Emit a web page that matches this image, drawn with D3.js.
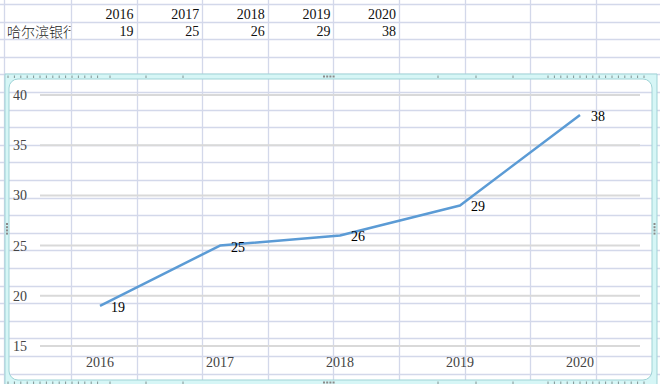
<!DOCTYPE html>
<html>
<head>
<meta charset="utf-8">
<script src="https://cdn.jsdelivr.net/npm/d3@7"></script>
<style>
  html, body { margin: 0; padding: 0; background: #fff; }
  svg { display: block; }
  .serif { font-family: "Liberation Serif", "DejaVu Serif", serif; font-size: 14px; }
</style>
</head>
<body>
<div id="chart"></div>
<script>
const seriesName = '哈尔滨银行'
const years = ['2016', '2017', '2018', '2019', '2020']
const values = [19, 25, 26, 29, 38]
const yTicks = [15, 20, 25, 30, 35, 40]

const W = 660, H = 384

const svg = d3.select('#chart').append('svg')
  .attr('width', W)
  .attr('height', H)

// spreadsheet grid behind everything
const colW = 65.6, rowH = 17.6
const colLines = d3.range(0, 10).map(i => 71 + i * colW)
const rowLines = d3.range(0, 22).map(i => 4 + i * rowH)

const sheet = svg.append('g').classed('sheet', true)
sheet.selectAll('line.col')
  .data([4].concat(colLines)).enter()
  .append('line').classed('col', true)
  .attr('x1', d => Math.round(d) + 0.5).attr('x2', d => Math.round(d) + 0.5)
  .attr('y1', 0).attr('y2', H)
  .attr('stroke', '#d3d8ea').attr('stroke-width', 1.3)
sheet.selectAll('line.row')
  .data(rowLines).enter()
  .append('line').classed('row', true)
  .attr('x1', 0).attr('x2', W)
  .attr('y1', d => Math.round(d) + 0.5).attr('y2', d => Math.round(d) + 0.5)
  .attr('stroke', '#d3d8ea').attr('stroke-width', 1.3)

// cell contents
const cellRight = i => colLines[i + 1] - 3
sheet.selectAll('text.year')
  .data(years).enter()
  .append('text').attr('class', 'year serif')
  .attr('x', (d, i) => cellRight(i))
  .attr('y', 14)
  .attr('dy', '0.35em')
  .attr('text-anchor', 'end')
  .attr('fill', '#111')
  .text(d => d)
sheet.selectAll('text.val')
  .data(values).enter()
  .append('text').attr('class', 'val serif')
  .attr('x', (d, i) => cellRight(i))
  .attr('y', 31.5)
  .attr('dy', '0.35em')
  .attr('text-anchor', 'end')
  .attr('fill', '#111')
  .text(d => d)

svg.append('clipPath').attr('id', 'nameclip')
  .append('rect').attr('x', 0).attr('y', 22).attr('width', 70.5).attr('height', 18)
sheet.append('text')
  .attr('clip-path', 'url(#nameclip)')
  .attr('x', 7).attr('y', 31.5).attr('dy', '0.36em')
  .attr('font-family', '"Noto Sans CJK SC", sans-serif')
  .attr('font-size', 14)
  .attr('font-weight', 300)
  .attr('fill', '#222')
  .text(seriesName)

// chart
const xScale = d3.scaleBand().domain(years).range([40, 640])
const yScale = d3.scaleLinear().domain([15, 40]).range([346, 95])

const chart = svg.append('g').classed('chart', true)

chart.append('g').classed('grid', true)
  .selectAll('line')
  .data(yTicks).enter()
  .append('line')
  .attr('x1', 40).attr('x2', 640)
  .attr('y1', d => yScale(d)).attr('y2', d => yScale(d))
  .attr('stroke', '#d9d9d9').attr('stroke-width', 2)

const yAxis = d3.axisLeft(yScale).tickValues(yTicks).tickSize(0).tickPadding(0)
chart.append('g').classed('y-axis', true)
  .attr('transform', 'translate(27, 0)')
  .call(yAxis)
  .attr('font-family', null).attr('font-size', null)
  .call(g => g.select('.domain').remove())
  .selectAll('text')
  .attr('class', 'serif')
  .attr('fill', '#444')

const xAxis = d3.axisBottom(xScale).tickSize(0).tickPadding(0)
chart.append('g').classed('x-axis', true)
  .attr('transform', 'translate(0, 357)')
  .call(xAxis)
  .attr('font-family', null).attr('font-size', null)
  .call(g => g.select('.domain').remove())
  .selectAll('text')
  .attr('class', 'serif')
  .attr('fill', '#444')

const pts = years.map((y, i) => ({ year: y, value: values[i] }))
const line = d3.line()
  .x(d => xScale(d.year) + xScale.bandwidth() / 2)
  .y(d => yScale(d.value))

chart.append('path')
  .datum(pts)
  .attr('d', line)
  .attr('fill', 'none')
  .attr('stroke', '#5b9bd5')
  .attr('stroke-width', 2.5)
  .attr('stroke-linejoin', 'round')

chart.selectAll('text.label')
  .data(pts).enter()
  .append('text').attr('class', 'label serif')
  .attr('x', d => xScale(d.year) + xScale.bandwidth() / 2 + 11)
  .attr('y', d => yScale(d.value) + 1)
  .attr('dy', '0.35em')
  .attr('fill', '#000')
  .text(d => d.value)

// selection frame of the embedded chart
const fx0 = 5, fy0 = 74, fx1 = 657, fy1 = 390
const ix0 = 9, iy0 = 79, ix1 = 652, iy1 = 380, r = 9
const framePath = d3.path()
framePath.rect(fx0, fy0, fx1 - fx0, fy1 - fy0)
framePath.moveTo(ix0 + r, iy0)
framePath.lineTo(ix1 - r, iy0)
framePath.arcTo(ix1, iy0, ix1, iy0 + r, r)
framePath.lineTo(ix1, iy1 - r)
framePath.arcTo(ix1, iy1, ix1 - r, iy1, r)
framePath.lineTo(ix0 + r, iy1)
framePath.arcTo(ix0, iy1, ix0, iy1 - r, r)
framePath.lineTo(ix0, iy0 + r)
framePath.arcTo(ix0, iy0, ix0 + r, iy0, r)
framePath.closePath()

const frame = svg.append('g').classed('frame', true)
frame.append('path')
  .attr('d', framePath.toString())
  .attr('fill', '#d6f6f6')
  .attr('fill-rule', 'evenodd')
  .attr('stroke', '#9fd3d6')
  .attr('stroke-width', 1)

// ruler ticks on top and bottom bands
const tickXs = d3.range(8, 100, 6.4)
  .concat([110, 146, 183, 438, 476, 513])
  .concat(d3.range(548, 648, 6.4))
frame.selectAll('line.rt')
  .data(tickXs).enter()
  .append('line').classed('rt', true)
  .attr('x1', d => d).attr('x2', d => d)
  .attr('y1', 75.5).attr('y2', 78)
  .attr('stroke', '#6a7a7a').attr('stroke-width', 0.8)
frame.selectAll('line.rb')
  .data(tickXs).enter()
  .append('line').classed('rb', true)
  .attr('x1', d => d).attr('x2', d => d)
  .attr('y1', 381.5).attr('y2', 384)
  .attr('stroke', '#6a7a7a').attr('stroke-width', 0.8)

// resize handles
const handleDots = [0, 1, 2, 3]
frame.selectAll('rect.ht')
  .data(handleDots).enter()
  .append('rect').classed('ht', true)
  .attr('x', d => 323 + d * 3.2).attr('y', 75.5)
  .attr('width', 2).attr('height', 2).attr('fill', '#8a8a8a')
frame.selectAll('rect.hb')
  .data(handleDots).enter()
  .append('rect').classed('hb', true)
  .attr('x', d => 323 + d * 3.2).attr('y', 381.5)
  .attr('width', 2).attr('height', 2).attr('fill', '#8a8a8a')
frame.selectAll('rect.hr')
  .data(handleDots).enter()
  .append('rect').classed('hr', true)
  .attr('x', 653.5).attr('y', d => 223 + d * 3.2)
  .attr('width', 2).attr('height', 2).attr('fill', '#8a8a8a')
frame.selectAll('rect.hl')
  .data(handleDots).enter()
  .append('rect').classed('hl', true)
  .attr('x', 6).attr('y', d => 223 + d * 3.2)
  .attr('width', 2).attr('height', 2).attr('fill', '#8a8a8a')
</script>
</body>
</html>
